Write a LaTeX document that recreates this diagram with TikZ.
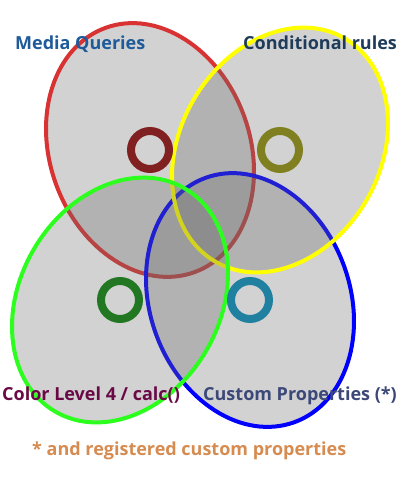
\documentclass[tikz,border=0pt]{standalone}
\usepackage{fontspec}
\setmainfont{Open Sans}
\usepackage{tikz}

\definecolor{mqred}{RGB}{216,50,50}
\definecolor{condyellow}{RGB}{255,255,0}
\definecolor{colgreen}{RGB}{44,255,30}
\definecolor{propblue}{RGB}{0,0,255}
\definecolor{mqring}{RGB}{128,32,32}
\definecolor{condring}{RGB}{128,128,32}
\definecolor{colring}{RGB}{34,120,34}
\definecolor{propring}{RGB}{32,128,160}
\definecolor{mqtext}{RGB}{31,90,154}
\definecolor{condtext}{RGB}{30,60,90}
\definecolor{coltext}{RGB}{105,10,70}
\definecolor{proptext}{RGB}{60,72,120}
\definecolor{notetext}{RGB}{214,140,80}

\begin{document}
\begin{tikzpicture}[x=1pt,y=-1pt,
  set/.style={line width=4pt,fill=black!58,fill opacity=0.3},
  ring/.style={line width=8pt},
  lbl/.style={anchor=base west,inner sep=0pt,font=\fontsize{18}{21}\selectfont\bfseries}]

\useasboundingbox (0,0) rectangle (400,500);
\fill [white](0,0) rectangle (400,500);

\draw [set,draw=mqred,shift={(150,150)},rotate=20](0,0) ellipse [x radius=100pt,y radius=130pt];
\draw [set,draw=propblue,shift={(250,300)},rotate=20](0,0) ellipse [x radius=100pt,y radius=130pt];
\draw [set,draw=condyellow,shift={(280,150)},rotate=-30](0,0) ellipse [x radius=100pt,y radius=129pt];
\draw [set,draw=colgreen,shift={(120,300)},rotate=-30](0,0) ellipse [x radius=100pt,y radius=129pt];

\draw [ring,color=mqring](150,150) circle (19pt);
\draw [ring,color=condring](280,150) circle (19pt);
\draw [ring,color=colring](120,300) circle (19pt);
\draw [ring,color=propring](250,300) circle (19pt);

\node [lbl,text=mqtext] (mq) at (15,50) {Media Queries};
\node [lbl,text=condtext] (cond) at (243,50) {Conditional rules};
\node [lbl,text=coltext] (col) at (2,400) {Color Level 4 / calc()};
\node [lbl,text=proptext] (prop) at (203,400) {Custom Properties (*)};
\node [lbl,text=notetext] (note) at (32,455) {* and registered custom properties};
\end{tikzpicture}
\end{document}
